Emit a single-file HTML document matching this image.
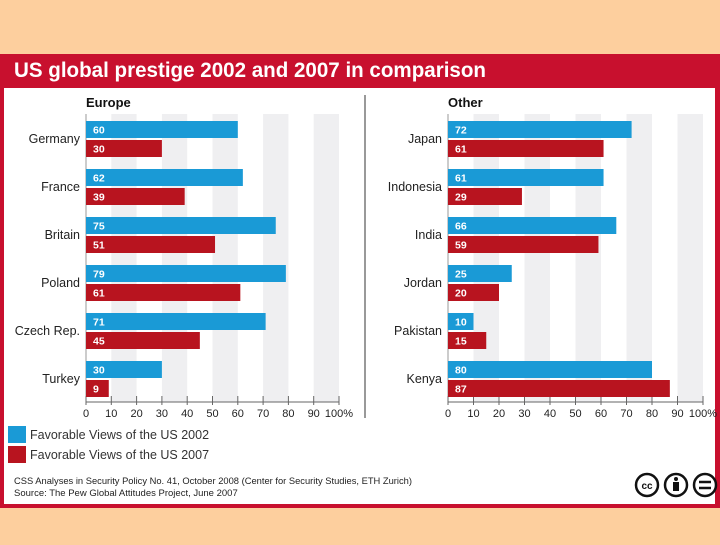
<!DOCTYPE html>
<html><head><meta charset="utf-8"><style>
body{margin:0;width:720px;height:540px;background:#fdcf9e;overflow:hidden;font-family:"Liberation Sans",sans-serif}
</style></head><body>
<svg width="720" height="540" viewBox="0 0 720 540" xmlns="http://www.w3.org/2000/svg">
<rect x="0" y="54" width="720" height="454" fill="#c8102e"/>
<rect x="4" y="88" width="711" height="416" fill="#ffffff"/>
<text x="14" y="77" font-size="21" font-weight="bold" fill="#fff" textLength="472" lengthAdjust="spacingAndGlyphs">US global prestige 2002 and 2007 in comparison</text>
<line x1="365" y1="95" x2="365" y2="418" stroke="#999" stroke-width="2"/>
<g id="plots"></g>
<rect x="8" y="426" width="18" height="17" fill="#1a9ad6"/>
<text x="30" y="439" font-size="12.5" fill="#333">Favorable Views of the US 2002</text>
<rect x="8" y="446" width="18" height="17" fill="#b8141f"/>
<text x="30" y="459" font-size="12.5" fill="#333">Favorable Views of the US 2007</text>
<text x="14" y="484" font-size="9.5" fill="#222" textLength="398" lengthAdjust="spacingAndGlyphs">CSS Analyses in Security Policy No. 41, October 2008 (Center for Security Studies, ETH Zurich)</text>
<text x="14" y="496" font-size="9.5" fill="#222">Source: The Pew Global Attitudes Project, June 2007</text>
<g fill="none" stroke="#111" stroke-width="2.5">
<circle cx="647" cy="485" r="11"/><circle cx="676" cy="485" r="11"/><circle cx="705" cy="485" r="11"/>
<text x="647" y="489" font-size="10" font-weight="bold" fill="#111" stroke="none" text-anchor="middle">cc</text>
<circle cx="676" cy="479" r="2" fill="#111" stroke="none"/><rect x="673" y="482" width="6" height="9" fill="#111" stroke="none"/>
<line x1="699" y1="482" x2="711" y2="482"/><line x1="699" y1="488" x2="711" y2="488"/>
</g>
</svg>
<script>
const europeCountries=["Germany","France","Britain","Poland","Czech Rep.","Turkey"];
const europe2002=[60,62,75,79,71,30];
const europe2007=[30,39,51,61,45,9];
const otherCountries=["Japan","Indonesia","India","Jordan","Pakistan","Kenya"];
const other2002=[72,61,66,25,10,80];
const other2007=[61,29,59,20,15,87];
const tickLabels=["0","10","20","30","40","50","60","70","80","90","100%"];
const ticks=[0,10,20,30,40,50,60,70,80,90,100];
const NS="http://www.w3.org/2000/svg";
const g=document.getElementById('plots');
function mk(tag,attrs,parent){const e=document.createElementNS(NS,tag);for(const k in attrs)e.setAttribute(k,attrs[k]);(parent||g).appendChild(e);return e;}
function panel(x0,x100,title,cats,a,b,key){
  const sx=v=>x0+(x100-x0)*v/100;
  const rowY=i=>121+i*48;
  const grp=mk('g',{});
  
  
  for(let t=10;t<100;t+=20){
    const s=mk('rect',{x:sx(t),y:114,width:sx(t+10)-sx(t),height:288,fill:'#efeff1'},grp);
    
    
  }
  const tt=mk('text',{x:x0,y:107,'font-size':13,'font-weight':'bold',fill:'#111'},grp);
  tt.textContent=title;
  
  
  const ax=mk('line',{x1:x0,y1:402,x2:x100,y2:402,stroke:'#666','stroke-width':1},grp);
  
  
  const yl=mk('line',{x1:x0,y1:114,x2:x0,y2:402,stroke:'#999','stroke-width':1},grp);
  
  
  ticks.forEach((t,i)=>{
    mk('line',{x1:sx(t),y1:396,x2:sx(t),y2:405,stroke:'#666'},grp);
    const l=mk('text',{x:sx(t),y:417,'font-size':11,fill:'#222','text-anchor':'middle'},grp);
    l.textContent=tickLabels[i];
    
    
  });
  cats.forEach((c,i)=>{
    const y=rowY(i);
    const cl=mk('text',{x:x0-6,y:y+22,'font-size':12.5,fill:'#222','text-anchor':'end'},grp);
    cl.textContent=c;
    
    
    [[a[i],'#1a9ad6',y,'2002'],[b[i],'#b8141f',y+19,'2007']].forEach(([v,col,yy,yr])=>{
      const r=mk('rect',{x:x0,y:yy,width:sx(v)-x0,height:17,fill:col},grp);
      
      
      const vt=mk('text',{x:x0+7,y:yy+12.5,'font-size':10.5,'font-weight':'bold',fill:'#fff'},grp);
      vt.textContent=v;
      
      
    });
  });
}
panel(86,339,"Europe",europeCountries,europe2002,europe2007,'europe');
panel(448,703,"Other",otherCountries,other2002,other2007,'other');
</script>
</body></html>
